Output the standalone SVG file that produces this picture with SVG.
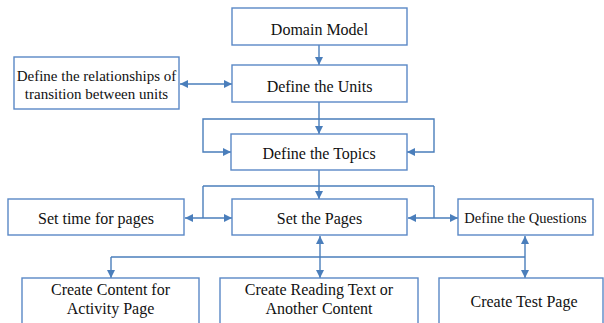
<svg xmlns="http://www.w3.org/2000/svg" width="604" height="323" viewBox="0 0 604 323" font-family="Liberation Serif, DejaVu Serif, serif">
<defs>
<marker id="ah" viewBox="0 0 10 10" refX="10" refY="5" markerWidth="8" markerHeight="8" markerUnits="userSpaceOnUse" orient="auto-start-reverse">
<path d="M0,0 L10,5 L0,10 z" fill="#4a7ebb"/>
</marker>
<style>
.box{fill:#fff;stroke:#5a88c6;stroke-width:1.4}
.t{font-size:16px;fill:#111;text-anchor:middle}
.s{font-size:15px}
.c{fill:none;stroke:#4a7ebb;stroke-width:1.4}
</style>
</defs>
<rect width="604" height="323" fill="#fff"/>
<g id="connectors">
<line class="c" x1="319" y1="45" x2="319" y2="65" marker-end="url(#ah)"/>
<line class="c" x1="180" y1="84" x2="232" y2="84" marker-start="url(#ah)" marker-end="url(#ah)"/>
<line class="c" x1="319" y1="102" x2="319" y2="134" marker-end="url(#ah)"/>
<path class="c" d="M319,119 H203 V152 H231" marker-end="url(#ah)"/>
<path class="c" d="M319,119 H434 V152 H407" marker-end="url(#ah)"/>
<line class="c" x1="319" y1="170" x2="319" y2="199" marker-end="url(#ah)"/>
<line class="c" x1="203" y1="186" x2="434" y2="186"/>
<line class="c" x1="203" y1="186" x2="203" y2="218"/>
<line class="c" x1="434" y1="186" x2="434" y2="218"/>
<line class="c" x1="185" y1="218" x2="232" y2="218" marker-start="url(#ah)" marker-end="url(#ah)"/>
<line class="c" x1="408" y1="218" x2="458" y2="218" marker-start="url(#ah)" marker-end="url(#ah)"/>
<line class="c" x1="111" y1="257" x2="525" y2="257"/>
<line class="c" x1="111" y1="257" x2="111" y2="278" marker-end="url(#ah)"/>
<line class="c" x1="320" y1="236" x2="320" y2="278" marker-start="url(#ah)" marker-end="url(#ah)"/>
<line class="c" x1="525" y1="236" x2="525" y2="278" marker-start="url(#ah)" marker-end="url(#ah)"/>
</g>
<g id="domain-model"><rect class="box" x="232" y="8" width="175" height="37"/><text class="t" x="319.5" y="35">Domain Model</text></g>
<g id="define-units"><rect class="box" x="232" y="65" width="175" height="37"/><text class="t" x="319.5" y="92">Define the Units</text></g>
<g id="define-relationships"><rect class="box" x="14" y="57" width="165" height="52"/><text class="t s" x="96.5" y="81">Define the relationships of</text><text class="t s" x="96.5" y="99">transition between units</text></g>
<g id="define-topics"><rect class="box" x="231" y="134" width="176" height="36"/><text class="t" x="319" y="159">Define the Topics</text></g>
<g id="set-time"><rect class="box" x="8" y="199" width="176" height="36"/><text class="t" x="96" y="224">Set time for pages</text></g>
<g id="set-pages"><rect class="box" x="232" y="199" width="175" height="36"/><text class="t" x="319.5" y="224">Set the Pages</text></g>
<g id="define-questions"><rect class="box" x="458" y="199" width="135" height="36"/><text class="t" style="font-size:14.5px" x="525.5" y="223">Define the Questions</text></g>
<g id="create-content"><rect class="box" x="22" y="278" width="177" height="60"/><text class="t" x="110.5" y="295">Create Content for</text><text class="t" x="110.5" y="314">Activity Page</text></g>
<g id="create-reading"><rect class="box" x="220" y="278" width="198" height="60"/><text class="t" x="319" y="295">Create Reading Text or</text><text class="t" x="319" y="314">Another Content</text></g>
<g id="create-test"><rect class="box" x="439" y="278" width="164" height="60"/><text class="t" x="524" y="307">Create Test Page</text></g>
</svg>
